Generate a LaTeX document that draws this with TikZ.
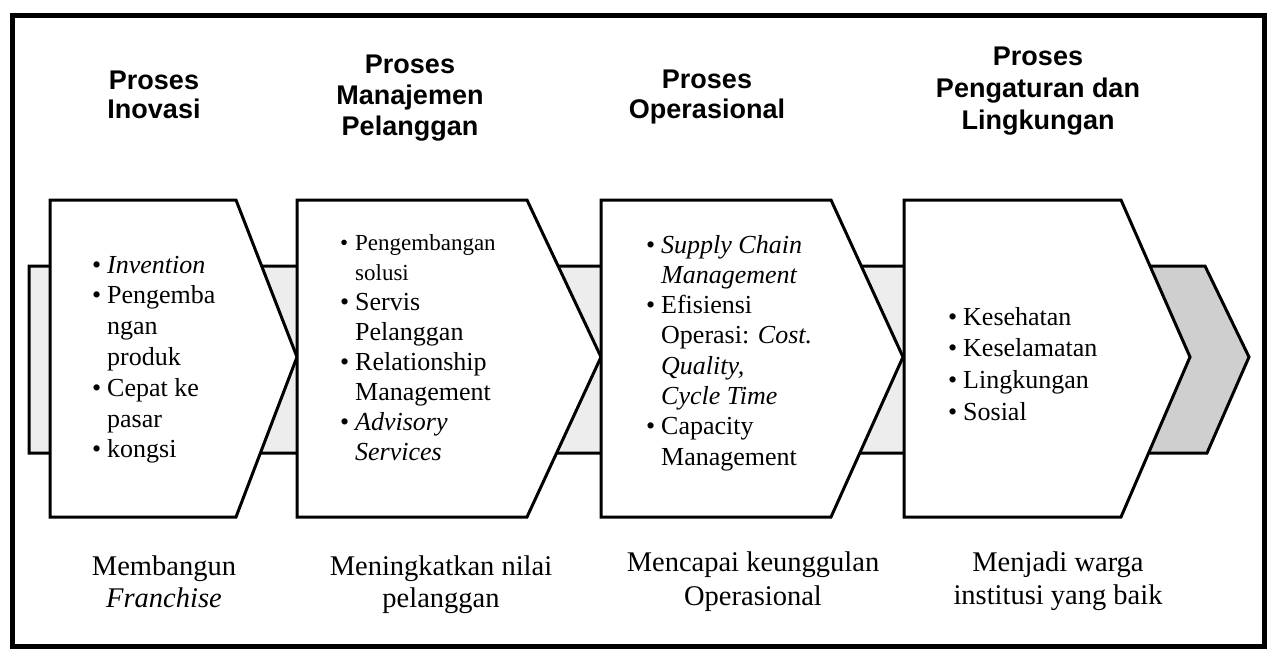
\documentclass[tikz,border=0pt]{standalone}
\usepackage{fontspec}
\setmainfont{Liberation Serif}
\setsansfont{Liberation Sans}

% heading: sans bold, centred lines, base anchor = first baseline
\newcommand\heading[2]{\fontsize{27}{#1}\selectfont\begin{tabular}[t]{@{}c@{}}#2\end{tabular}}
% bullet list: first column holds the bullet, second the text lines
\newcommand\blt{\makebox[15pt][l]{\textbullet}}
\newcommand\bullist[2]{\fontsize{26}{#1}\selectfont\begin{tabular}[t]{@{}l@{}l@{}}#2\end{tabular}}
\newcommand\smaller[1]{{\fontsize{23}{23}\selectfont #1}}
% caption under each stage
\newcommand\stagecap[2]{\fontsize{28.5}{#1}\selectfont\begin{tabular}[t]{@{}c@{}}#2\end{tabular}}

\tikzset{
  chevron/.style={draw=black, fill=white, line width=3pt, line join=miter},
  bandfill/.style={fill=gray!14},
  headfill/.style={fill=gray!38},
  bandline/.style={draw=black, line width=3pt},
  frame/.style={draw=black, line width=5pt},
  title/.style={anchor=base, inner sep=0pt, font=\sffamily\bfseries},
  body/.style={anchor=base west, inner sep=0pt},
  caption/.style={anchor=base, inner sep=0pt},
}

\begin{document}
\begin{tikzpicture}[x=1pt, y=-1pt]
\useasboundingbox (0,0) rectangle (1272,651);
\fill[white] (0,0) rectangle (1272,651);

% grey band running behind the stages, ending in an arrow head
\path[bandfill] (29,266) -- (1205,266) -- (1249,357) -- (1207,453) -- (29,453) -- cycle;
\path[headfill] (1130,266) -- (1205,266) -- (1249,357) -- (1207,453) -- (1130,453) -- cycle;
\path[bandline] (29,266) -- (1205,266) -- (1249,357) -- (1207,453) -- (29,453) -- cycle;

% the four stage chevrons
\foreach \l/\s/\t in {50/236/297, 297/527/601, 601/831/903, 904/1121/1190}
  \path[chevron] (\l,200) -- (\s,200) -- (\t,357) -- (\s,517) -- (\l,517) -- cycle;

% outer frame
\path[frame] (12.5,15.5) rectangle (1264,646.5);

% headings
\node[title] (h1) at (154,89) {\heading{29}{Proses\\Inovasi}};
\node[title] (h2) at (410,73) {\heading{31}{Proses\\Manajemen\\Pelanggan}};
\node[title] (h3) at (707,88) {\heading{30}{Proses\\Operasional}};
\node[title] (h4) at (1038,65) {\heading{32}{Proses\\Pengaturan dan\\Lingkungan}};

% stage contents
\node[body] (b1) at (92,273) {\bullist{30.8}{%
  \blt & \textit{Invention}\\
  \blt & Pengemba\\
       & ngan\\
       & produk\\
  \blt & Cepat ke\\
       & pasar\\
  \blt & kongsi}};
\node[body] (b2) at (340,250) {\bullist{30}{%
  \smaller{\blt} & \smaller{Pengembangan}\\
       & \smaller{solusi}\\
  \blt & Servis\\
       & Pelanggan\\
  \blt & Relationship\\
       & Management\\
  \blt & \textit{Advisory}\\
       & \textit{Services}}};
\node[body] (b3) at (646,253) {\bullist{30.3}{%
  \blt & \textit{Supply Chain}\\
       & \textit{Management}\\
  \blt & Efisiensi\\
       & Operasi: \textit{Cost.}\\
       & \textit{Quality,}\\
       & \textit{Cycle Time}\\
  \blt & Capacity\\
       & Management}};
\node[body] (b4) at (948,325) {\bullist{31.7}{%
  \blt & Kesehatan\\
  \blt & Keselamatan\\
  \blt & Lingkungan\\
  \blt & Sosial}};

% captions
\node[caption] (c1) at (164,575) {\stagecap{32}{Membangun\\\textit{Franchise}}};
\node[caption] (c2) at (441,575) {\stagecap{32}{Meningkatkan nilai\\pelanggan}};
\node[caption] (c3) at (753,571) {\stagecap{34}{Mencapai keunggulan\\Operasional}};
\node[caption] (c4) at (1058,571) {\stagecap{33}{Menjadi warga\\institusi yang baik}};
\end{tikzpicture}
\end{document}
